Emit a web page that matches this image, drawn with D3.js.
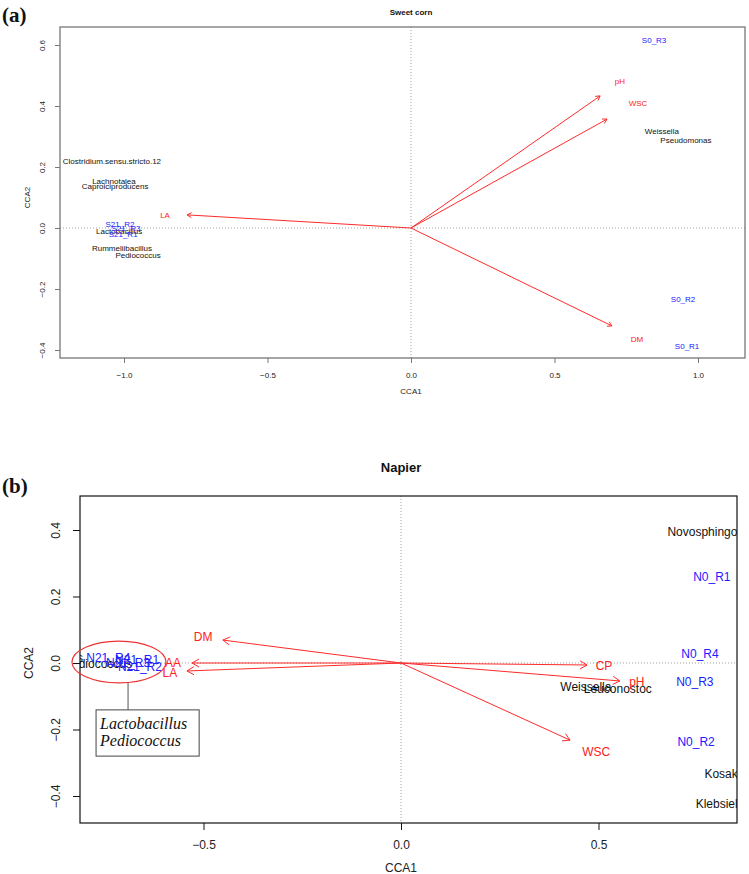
<!DOCTYPE html>
<html>
<head>
<meta charset="utf-8">
<script src="https://cdn.jsdelivr.net/npm/d3@7"></script>
<style>
body { margin: 0; background: #fff; }
svg { display: block; }
text { font-family: "Liberation Sans", Arial, sans-serif; }
</style>
</head>
<body>
<div id="chart"></div>
<script>
// ---- panel (a): Sweet corn ----
var scArrowNames = ["pH", "WSC", "DM", "LA"];
var scArrowX = [0.659, 0.683, 0.700, -0.780];
var scArrowY = [0.433, 0.357, -0.321, 0.043];
var scArrowLabX = [0.728, 0.791, 0.787, -0.857];
var scArrowLabY = [0.482, 0.410, -0.364, 0.043];

var scSiteNames = ["S0_R3", "S0_R2", "S0_R1", "S21_R2", "S21_R3", "S21_R1"];
var scSiteX = [0.847, 0.948, 0.962, -1.014, -0.993, -1.003];
var scSiteY = [0.616, -0.233, -0.387, 0.013, 0.000, -0.020];

var scSpeciesNames = ["Clostridium.sensu.stricto.12", "Lachnotalea", "Caproiciproducens",
    "Lactobacillus", "Rummeliibacillus", "Pediococcus", "Weissella", "Pseudomonas"];
var scSpeciesX = [-1.042, -1.035, -1.031, -1.017, -1.007, -0.951, 0.874, 0.958];
var scSpeciesY = [0.220, 0.154, 0.138, -0.010, -0.066, -0.089, 0.318, 0.289];

var scTicksX = [-1.0, -0.5, 0.0, 0.5, 1.0];
var scTicksY = [-0.4, -0.2, 0.0, 0.2, 0.4, 0.6];

// ---- panel (b): Napier ----
var npArrowNames = ["DM", "AA", "LA", "CP", "pH", "WSC"];
var npArrowX = [-0.451, -0.529, -0.542, 0.471, 0.554, 0.428];
var npArrowY = [0.069, 0.000, -0.024, -0.006, -0.054, -0.232];
var npArrowLabX = [-0.501, -0.577, -0.585, 0.514, 0.597, 0.494];
var npArrowLabY = [0.078, 0.000, -0.030, -0.009, -0.057, -0.268];

var npSiteNames = ["N0_R1", "N0_R4", "N0_R3", "N0_R2", "N21_R4", "N21_R3", "N21_R1", "N21_R2"];
var npSiteX = [0.787, 0.757, 0.744, 0.747, -0.741, -0.691, -0.668, -0.661];
var npSiteY = [0.259, 0.027, -0.057, -0.238, 0.015, 0.000, 0.009, -0.012];

var npSpeciesNames = ["Novosphingobium", "Kosakonia", "Klebsiella", "Weissella",
    "Leuconostoc", "Pediococcus", "Lactobacillus"];
var npSpeciesX = [0.796, 0.839, 0.811, 0.468, 0.549, -0.767, -0.893];
var npSpeciesY = [0.394, -0.334, -0.424, -0.072, -0.078, -0.003, 0.015];

var npTicksX = [-0.5, 0.0, 0.5];
var npTicksY = [-0.4, -0.2, 0.0, 0.2, 0.4];

// circled group and its note box (data units)
var noteCenter = [-0.714, 0.003];
var noteRadii = [0.119, 0.063];
var noteBoxX = [-0.772, -0.511];
var noteBoxY = [-0.141, -0.280];
var noteLines = ["Lactobacillus", "Pediococcus"];

var svg = d3.select("#chart")
    .append("svg")
    .attr("width", 749)
    .attr("height", 874);

var fmt = d3.format(".1f");

// Draw an R-like open arrowhead at the end of a segment
var arrowHead = function(g, x0, y0, x1, y1, len, color) {
    var ang = Math.atan2(y1 - y0, x1 - x0);
    [Math.PI / 6, -Math.PI / 6].forEach(function(a) {
        g.append("line")
            .attr("x1", x1).attr("y1", y1)
            .attr("x2", x1 - len * Math.cos(ang + a))
            .attr("y2", y1 - len * Math.sin(ang + a))
            .attr("stroke", color).attr("stroke-width", 1);
    });
};

var drawPanel = function(cfg) {
    var x = d3.scaleLinear().domain(cfg.xDomain).range([cfg.left, cfg.right]);
    var y = d3.scaleLinear().domain(cfg.yDomain).range([cfg.bottom, cfg.top]);
    var g = svg.append("g");

    g.append("clipPath").attr("id", cfg.id + "clip")
        .append("rect")
        .attr("x", cfg.left).attr("y", cfg.top)
        .attr("width", cfg.right - cfg.left).attr("height", cfg.bottom - cfg.top);

    var inner = g.append("g").attr("clip-path", "url(#" + cfg.id + "clip)");

    // reference lines through the origin
    inner.append("line")
        .attr("x1", cfg.left).attr("x2", cfg.right)
        .attr("y1", y(0)).attr("y2", y(0))
        .attr("stroke", "#888").attr("stroke-width", 0.8)
        .attr("stroke-dasharray", "1,2");
    inner.append("line")
        .attr("x1", x(0)).attr("x2", x(0))
        .attr("y1", cfg.top).attr("y2", cfg.bottom)
        .attr("stroke", "#888").attr("stroke-width", 0.8)
        .attr("stroke-dasharray", "1,2");

    // species labels (black)
    inner.selectAll(".sp")
        .data(cfg.species)
        .enter()
        .append("text")
        .attr("class", "sp")
        .attr("x", function(d) { return x(d.x); })
        .attr("y", function(d) { return y(d.y); })
        .attr("dy", "0.35em")
        .attr("text-anchor", "middle")
        .attr("font-size", cfg.fs)
        .attr("fill", "#111")
        .text(function(d) { return d.name; });

    // site labels (blue)
    inner.selectAll(".site")
        .data(cfg.sites)
        .enter()
        .append("text")
        .attr("class", "site")
        .attr("x", function(d) { return x(d.x); })
        .attr("y", function(d) { return y(d.y); })
        .attr("dy", "0.35em")
        .attr("text-anchor", "middle")
        .attr("font-size", cfg.fs)
        .attr("fill", "#2020ff")
        .text(function(d) { return d.name; });

    // environmental vectors
    cfg.arrows.forEach(function(d) {
        inner.append("line")
            .attr("x1", x(0)).attr("y1", y(0))
            .attr("x2", x(d.x)).attr("y2", y(d.y))
            .attr("stroke", "#ff2a2a").attr("stroke-width", 1);
        arrowHead(inner, x(0), y(0), x(d.x), y(d.y), cfg.head, "#ff2a2a");
        inner.append("text")
            .attr("x", x(d.lx)).attr("y", y(d.ly))
            .attr("dy", "0.35em")
            .attr("text-anchor", "middle")
            .attr("font-size", cfg.fs)
            .attr("fill", "#ff2020")
            .text(d.name);
    });

    // axes
    var xAxis = g.append("g")
        .attr("transform", "translate(0," + cfg.bottom + ")")
        .call(d3.axisBottom(x).tickValues(cfg.ticksX).tickSize(cfg.tick).tickPadding(cfg.pad).tickFormat(fmt));
    var yAxis = g.append("g")
        .attr("transform", "translate(" + cfg.left + ",0)")
        .call(d3.axisLeft(y).tickValues(cfg.ticksY).tickSize(cfg.tick).tickPadding(0).tickFormat(fmt));
    [xAxis, yAxis].forEach(function(a) {
        a.select(".domain").remove();
        a.selectAll(".tick line").attr("stroke", cfg.boxColor);
        a.selectAll(".tick text")
            .attr("font-size", cfg.tfs)
            .attr("fill", "#222")
            .style("font-family", "'Liberation Sans', Arial, sans-serif");
    });
    yAxis.selectAll(".tick text")
        .attr("x", null).attr("dy", null)
        .attr("text-anchor", "middle")
        .attr("transform", "translate(" + (-cfg.ylabOff) + ",0) rotate(-90)");

    g.append("rect")
        .attr("x", cfg.left).attr("y", cfg.top)
        .attr("width", cfg.right - cfg.left).attr("height", cfg.bottom - cfg.top)
        .attr("fill", "none")
        .attr("stroke", cfg.boxColor)
        .attr("stroke-width", cfg.boxWidth);

    // titles
    g.append("text")
        .attr("x", x(0)).attr("y", cfg.titleY)
        .attr("text-anchor", "middle")
        .attr("font-size", cfg.titleFs)
        .attr("font-weight", "bold")
        .attr("fill", "#111")
        .text(cfg.title);
    g.append("text")
        .attr("x", x(0)).attr("y", cfg.xlabY)
        .attr("text-anchor", "middle")
        .attr("font-size", cfg.tfs)
        .attr("fill", "#222")
        .text("CCA1");
    g.append("text")
        .attr("transform", "translate(" + cfg.ylabX + "," + y(cfg.ylabAt) + ") rotate(-90)")
        .attr("text-anchor", "middle")
        .attr("font-size", cfg.tfs)
        .attr("fill", "#222")
        .text("CCA2");
    g.append("text")
        .attr("x", 2).attr("y", cfg.tagY)
        .style("font-family", "'Liberation Serif', 'Times New Roman', serif")
        .attr("font-size", 21)
        .attr("font-weight", "bold")
        .attr("fill", "#111")
        .text(cfg.tag);

    return { x: x, y: y, g: g };
};

var zipArrows = function(n, ax, ay, lx, ly) {
    return n.map(function(name, i) { return { name: name, x: ax[i], y: ay[i], lx: lx[i], ly: ly[i] }; });
};
var zipPts = function(n, px, py) {
    return n.map(function(name, i) { return { name: name, x: px[i], y: py[i] }; });
};

// Panel (a)
drawPanel({
    id: "a", tag: "(a)", tagY: 22, title: "Sweet corn", titleY: 15, titleFs: 8,
    left: 60, right: 745, top: 27, bottom: 358,
    xDomain: [(60 - 411) / 287, (745 - 411) / 287],
    yDomain: [-(358 - 228) / 305, (228 - 27) / 305],
    ticksX: scTicksX, ticksY: scTicksY,
    tick: 5, pad: 9, ylabOff: 15, fs: 8, tfs: 8, head: 5,
    boxColor: "#777", boxWidth: 1.3,
    xlabY: 394, ylabX: 30, ylabAt: 0.1,
    arrows: zipArrows(scArrowNames, scArrowX, scArrowY, scArrowLabX, scArrowLabY),
    sites: zipPts(scSiteNames, scSiteX, scSiteY),
    species: zipPts(scSpeciesNames, scSpeciesX, scSpeciesY)
});

// Panel (b)
var pb = drawPanel({
    id: "b", tag: "(b)", tagY: 493, title: "Napier", titleY: 472, titleFs: 13,
    left: 80, right: 737, top: 496, bottom: 823,
    xDomain: [(80 - 401) / 395, (737 - 401) / 395],
    yDomain: [-(823 - 663) / 332.5, (663 - 496) / 332.5],
    ticksX: npTicksX, ticksY: npTicksY,
    tick: 7, pad: 10, ylabOff: 20, fs: 12, tfs: 12, head: 8,
    boxColor: "#111", boxWidth: 1.2,
    xlabY: 872, ylabX: 33, ylabAt: 0.0,
    arrows: zipArrows(npArrowNames, npArrowX, npArrowY, npArrowLabX, npArrowLabY),
    sites: zipPts(npSiteNames, npSiteX, npSiteY),
    species: zipPts(npSpeciesNames, npSpeciesX, npSpeciesY)
});

// Circled cluster with its note
var x = pb.x, y = pb.y;
pb.g.append("ellipse")
    .attr("cx", x(noteCenter[0])).attr("cy", y(noteCenter[1]))
    .attr("rx", x(noteRadii[0]) - x(0)).attr("ry", y(0) - y(noteRadii[1]))
    .attr("fill", "none").attr("stroke", "#e33").attr("stroke-width", 1.2);
pb.g.append("line")
    .attr("x1", x(noteCenter[0] + 0.023)).attr("x2", x(noteCenter[0] + 0.023))
    .attr("y1", y(noteCenter[1] - noteRadii[1])).attr("y2", y(noteBoxY[0]))
    .attr("stroke", "#555").attr("stroke-width", 1);
pb.g.append("rect")
    .attr("x", x(noteBoxX[0])).attr("y", y(noteBoxY[0]))
    .attr("width", x(noteBoxX[1]) - x(noteBoxX[0]))
    .attr("height", y(noteBoxY[1]) - y(noteBoxY[0]))
    .attr("fill", "#fff").attr("stroke", "#444").attr("stroke-width", 1);
pb.g.selectAll(".note")
    .data(noteLines)
    .enter()
    .append("text")
    .attr("class", "note")
    .attr("x", x(noteBoxX[0]) + 4)
    .attr("y", function(d, i) { return y(noteBoxY[0]) + 19 + i * 17; })
    .style("font-family", "'Liberation Serif', 'Times New Roman', serif")
    .attr("font-size", 16)
    .attr("font-style", "italic")
    .attr("fill", "#111")
    .text(function(d) { return d; });
</script>
</body>
</html>
